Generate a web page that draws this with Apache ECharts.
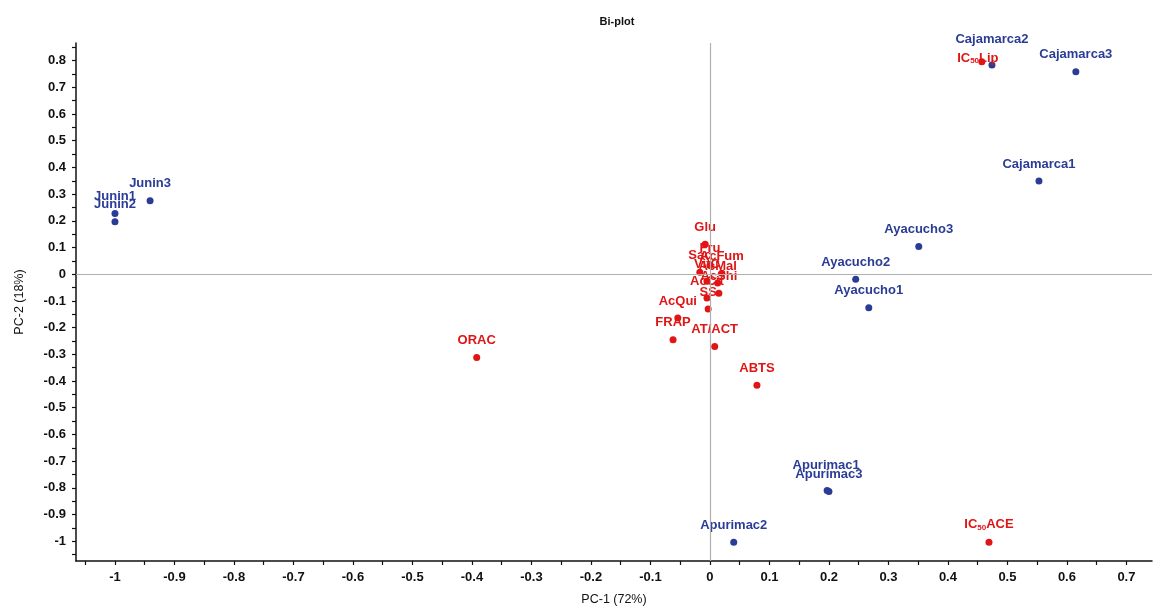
<!DOCTYPE html>
<html>
<head>
<meta charset="utf-8">
<script src="https://cdn.jsdelivr.net/npm/echarts@6/dist/echarts.min.js"></script>
<style>html,body{margin:0;padding:0;background:#fff}#c{width:1154px;height:611px}</style>
</head>
<body>
<div id="c"></div>
<script>
// ---- data ----
const sampleNames = ['Junin1','Junin2','Junin3','Cajamarca1','Cajamarca2','Cajamarca3','Ayacucho1','Ayacucho2','Ayacucho3','Apurimac1','Apurimac2','Apurimac3'];
const sampleX = [-1.0, -1.0, -0.941, 0.553, 0.474, 0.615, 0.267, 0.245, 0.351, 0.197, 0.040, 0.200];
const sampleY = [0.227, 0.197, 0.275, 0.349, 0.784, 0.758, -0.126, -0.019, 0.104, -0.810, -1.004, -0.814];

const varNames = ['IC50Lip','IC50ACE','ORAC','ABTS','AT/ACT','FRAP','AcQui','SS','Glu','Fru','Sac','AcFum','VitC','AcMal','AcShi','AcCit'];
const varX = [0.457, 0.469, -0.392, 0.079, 0.008, -0.062, -0.054, -0.003, -0.008, 0.000, -0.017, 0.020, -0.005, 0.013, 0.015, -0.005];
const varY = [0.796, -1.004, -0.312, -0.416, -0.271, -0.245, -0.164, -0.130, 0.112, 0.033, 0.007, 0.004, -0.026, -0.033, -0.071, -0.089];

const xTickLabels = [-1, -0.9, -0.8, -0.7, -0.6, -0.5, -0.4, -0.3, -0.2, -0.1, 0, 0.1, 0.2, 0.3, 0.4, 0.5, 0.6, 0.7];
const yTickLabels = [-1, -0.9, -0.8, -0.7, -0.6, -0.5, -0.4, -0.3, -0.2, -0.1, 0, 0.1, 0.2, 0.3, 0.4, 0.5, 0.6, 0.7, 0.8];

// ---- styling (not data) ----
const labelNudge = { 'Cajamarca2': [0, -8], 'IC50Lip': [-4, 14], 'Apurimac1': [-1, -8] };
const BLUE = '#2a3c96', RED = '#e01515';
const FONT = 'Liberation Sans, Arial';

function ticks(a, b) { const r = []; for (let k = Math.round(a * 20); k <= Math.round(b * 20); k++) r.push(+(k / 20).toFixed(2)); return r; }

function items(names, xs, ys) {
  return names.map((n, i) => ({ name: n, value: [xs[i], ys[i]] }));
}
function nudger(names) {
  return function (p) {
    const d = labelNudge[names[p.dataIndex]];
    return d ? { dx: d[0], dy: d[1], hideOverlap: false } : { hideOverlap: false };
  };
}

function fmt(p) {
  const n = p.name;
  if (n.indexOf('IC50') === 0) return '{m|IC}{s|50}{m|' + n.slice(4) + '}';
  return '{m|' + n + '}';
}
function lbl(color) {
  return {
    show: true, position: 'top', distance: 7, formatter: fmt,
    color: color, fontFamily: FONT, fontWeight: 'bold', fontSize: 13,
    rich: {
      m: { color: color, fontFamily: FONT, fontWeight: 'bold', fontSize: 13 },
      s: { color: color, fontFamily: FONT, fontWeight: 'bold', fontSize: 8, padding: [6, 0, 0, 0] }
    }
  };
}

const axisFont = { fontFamily: FONT, fontWeight: 'bold', fontSize: 13, color: '#111' };

const chart = echarts.init(document.getElementById('c'), null, { renderer: 'canvas' });
chart.setOption({
  animation: false,
  backgroundColor: '#fff',
  title: { text: 'Bi-plot', left: 612, top: 11, textAlign: 'center',
    textStyle: { fontFamily: FONT, fontWeight: 'bold', fontSize: 11, color: '#111' } },
  grid: { left: 76, right: 2, top: 43, bottom: 46 },
  xAxis: {
    type: 'value', min: -1.0655, max: 0.743,
    name: 'PC-1 (72%)', nameLocation: 'middle', nameGap: 32,
    nameTextStyle: { fontFamily: FONT, fontSize: 12.5, color: '#111' },
    axisLine: { onZero: false, lineStyle: { color: '#111', width: 1.5 } },
    axisTick: { show: true, inside: false, length: 4, customValues: ticks(-1.05, 0.7), lineStyle: { color: '#111', width: 1.2 } },
    axisLabel: { customValues: xTickLabels, formatter: v => String(+v.toFixed(1)), margin: 10, ...axisFont },
    splitLine: { show: false }
  },
  yAxis: {
    type: 'value', min: -1.074, max: 0.866,
    name: 'PC-2 (18%)', nameLocation: 'middle', nameGap: 50, nameRotate: 90,
    nameTextStyle: { fontFamily: FONT, fontSize: 12.5, color: '#111' },
    axisLine: { onZero: false, lineStyle: { color: '#111', width: 1.5 } },
    axisTick: { show: true, inside: false, length: 4, customValues: ticks(-1.05, 0.85), lineStyle: { color: '#111', width: 1.2 } },
    axisLabel: { customValues: yTickLabels, formatter: v => String(+v.toFixed(1)), margin: 10, ...axisFont },
    splitLine: { show: false }
  },
  series: [
    {
      name: 'zero', type: 'scatter', data: [], silent: true,
      markLine: { silent: true, symbol: 'none', label: { show: false },
        lineStyle: { color: '#b0b0b0', width: 1.2, type: 'solid' },
        data: [{ xAxis: 0 }, { yAxis: 0 }] }
    },
    {
      name: 'Samples', type: 'scatter', symbolSize: 7, itemStyle: { color: BLUE, opacity: 1 },
      label: lbl(BLUE), labelLayout: nudger(sampleNames),
      data: items(sampleNames, sampleX, sampleY)
    },
    {
      name: 'Variables', type: 'scatter', symbolSize: 7, itemStyle: { color: RED, opacity: 1 },
      label: lbl(RED), labelLayout: nudger(varNames),
      data: items(varNames, varX, varY)
    }
  ]
});
</script>
</body>
</html>
